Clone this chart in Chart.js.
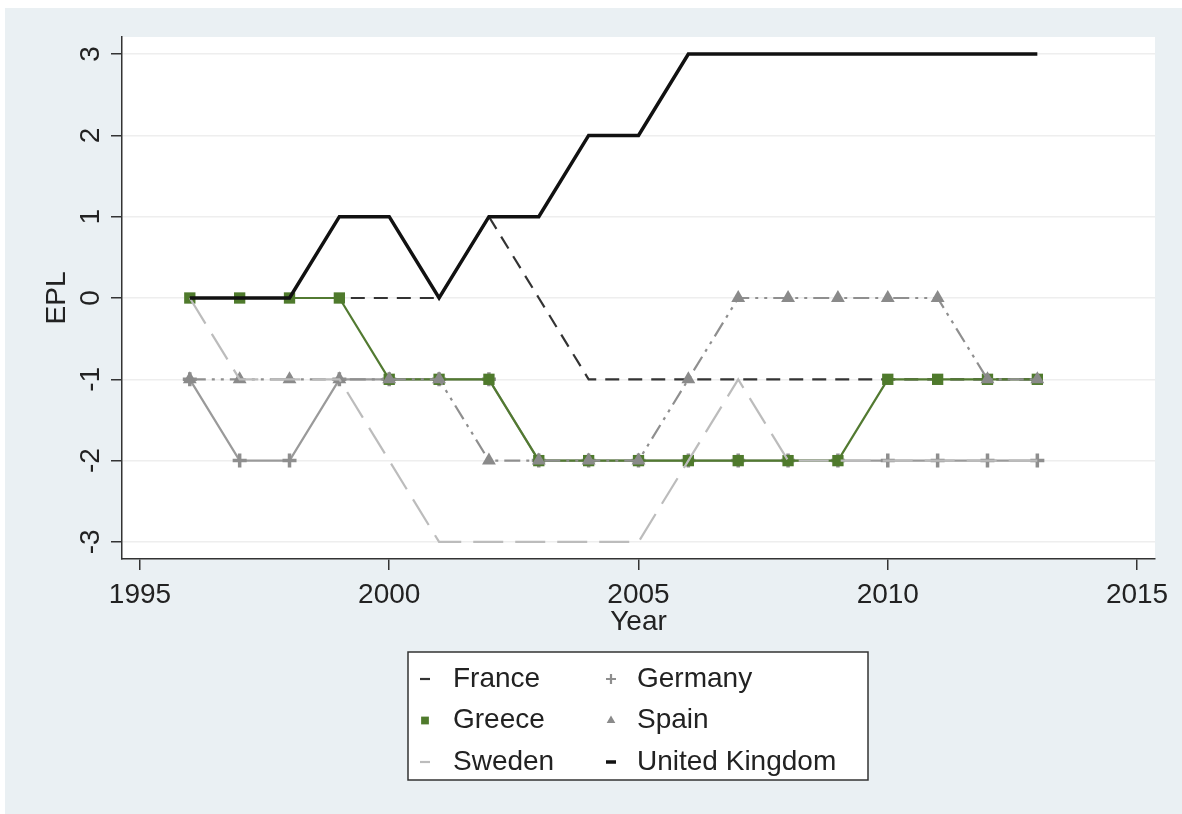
<!DOCTYPE html>
<html>
<head>
<meta charset="utf-8">
<script src="https://cdn.jsdelivr.net/npm/chart.js@4/dist/chart.umd.min.js"></script>
<style>
  html, body { margin: 0; padding: 0; background: #fff; }
</style>
</head>
<body>
<canvas id="epl" width="1182" height="814"></canvas>
<script>
// years on the x axis
const years = [1996, 1997, 1998, 1999, 2000, 2001, 2002, 2003, 2004, 2005,
               2006, 2007, 2008, 2009, 2010, 2011, 2012, 2013];

// EPL index per country
const france  = [0, 0, 0, 0, 0, 0, 1, 0, -1, -1, -1, -1, -1, -1, -1, -1, -1, -1];
const germany = [-1, -2, -2, -1, -1, -1, -1, -2, -2, -2, -2, -2, -2, -2, -2, -2, -2, -2];
const greece  = [0, 0, 0, 0, -1, -1, -1, -2, -2, -2, -2, -2, -2, -2, -1, -1, -1, -1];
const spain   = [-1, -1, -1, -1, -1, -1, -2, -2, -2, -2, -1, 0, 0, 0, 0, 0, -1, -1];
const sweden  = [0, -1, -1, -1, -2, -3, -3, -3, -3, -3, -2, -1, -2, -2, -2, -2, -2, -2];
const uk      = [0, 0, 0, 1, 1, 0, 1, 1, 2, 2, 3, 3, 3, 3, 3, 3, 3, 3];

const xTicks = [1995, 2000, 2005, 2010, 2015];
const yTicks = [-3, -2, -1, 0, 1, 2, 3];

const FONT = "'Liberation Sans', Arial, sans-serif";

function pts(vals) {
  return years.map((yr, i) => ({ x: yr, y: vals[i] }));
}

// light frame + white plot region
const background = {
  id: 'background',
  beforeDraw(chart) {
    const { ctx, chartArea: a } = chart;
    ctx.save();
    ctx.fillStyle = '#ffffff';
    ctx.fillRect(0, 0, chart.width, chart.height);
    ctx.fillStyle = '#eaf0f3';
    ctx.fillRect(5, 8, chart.width - 5, chart.height - 8);
    ctx.fillStyle = '#ffffff';
    ctx.fillRect(a.left, a.top, a.right - a.left, a.bottom - a.top);
    ctx.restore();
  }
};

// boxed two-column legend under the plot
const boxLegend = {
  id: 'boxLegend',
  afterDraw(chart) {
    const ctx = chart.ctx;
    const sets = chart.data.datasets;
    ctx.save();
    ctx.fillStyle = '#ffffff';
    ctx.fillRect(408, 652, 460, 128);
    ctx.strokeStyle = '#333';
    ctx.lineWidth = 1.5;
    ctx.strokeRect(408, 652, 460, 128);

    const symX = [425, 611];
    const txtX = [453, 637];
    sets.forEach((ds, i) => {
      const col = i % 2;
      const row = Math.floor(i / 2);
      const y = 679 + row * 41.5;
      const x = symX[col];
      ctx.setLineDash([]);
      if (ds.pointStyle && ds.pointRadius > 0) {
        ctx.fillStyle = ds.pointBackgroundColor;
        ctx.strokeStyle = ds.pointBorderColor;
        Chart.helpers.drawPoint(ctx, {
          pointStyle: ds.pointStyle, rotation: 0,
          radius: ds.legendRadius, borderWidth: ds.legendBorder
        }, x, y);
      } else {
        ctx.strokeStyle = ds.borderColor;
        ctx.lineWidth = ds.borderWidth;
        ctx.beginPath();
        ctx.moveTo(x - 5, y);
        ctx.lineTo(x + 5, y);
        ctx.stroke();
      }
      ctx.fillStyle = '#222';
      ctx.font = '28px ' + FONT;
      ctx.textBaseline = 'middle';
      ctx.textAlign = 'left';
      ctx.fillText(ds.label, txtX[col], y);
    });
    ctx.restore();
  }
};

new Chart(document.getElementById('epl'), {
  type: 'line',
  data: {
    datasets: [
      {
        label: 'France', data: pts(france), order: 6,
        borderColor: '#333333', borderWidth: 2.2, borderDash: [14, 9],
        pointRadius: 0
      },
      {
        label: 'Germany', data: pts(germany), order: 5,
        borderColor: '#9a9a9a', borderWidth: 2.2,
        pointStyle: 'cross', pointRadius: 7, pointBorderWidth: 3.5,
        pointBackgroundColor: '#8e8e8e', pointBorderColor: '#8e8e8e',
        legendRadius: 5, legendBorder: 1.5
      },
      {
        label: 'Greece', data: pts(greece), order: 4,
        borderColor: '#527a31', borderWidth: 2.2,
        pointStyle: 'rect', pointRadius: 8, pointBorderWidth: 0,
        pointBackgroundColor: '#4f7a2c', pointBorderColor: '#4f7a2c',
        legendRadius: 5.5, legendBorder: 0
      },
      {
        label: 'Spain', data: pts(spain), order: 3,
        borderColor: '#8f8f8f', borderWidth: 2.2, borderDash: [16, 6, 3, 6, 3, 6],
        pointStyle: 'triangle', pointRadius: 8, pointBorderWidth: 0,
        pointBackgroundColor: '#8a8a8a', pointBorderColor: '#8a8a8a',
        legendRadius: 5, legendBorder: 0
      },
      {
        label: 'Sweden', data: pts(sweden), order: 2,
        borderColor: '#bcbcbc', borderWidth: 2.2, borderDash: [30, 12],
        pointRadius: 0
      },
      {
        label: 'United Kingdom', data: pts(uk), order: 1,
        borderColor: '#111111', borderWidth: 3.5,
        pointRadius: 0
      }
    ]
  },
  options: {
    responsive: false,
    animation: false,
    layout: { padding: { left: 0, top: 37, right: 27, bottom: 175 } },
    plugins: { legend: { display: false }, tooltip: { enabled: false } },
    elements: { line: { tension: 0, fill: false } },
    scales: {
      x: {
        type: 'linear', min: 1994.64, max: 2015.36,
        afterBuildTicks: s => { s.ticks = xTicks.map(v => ({ value: v })); },
        afterFit: s => { s.height = 80; },
        grid: { drawOnChartArea: false, drawTicks: true, tickLength: 11, tickColor: '#333', lineWidth: 1.5 },
        border: { display: true, color: '#333', width: 1.5 },
        ticks: { padding: 8, color: '#222', font: { size: 28, family: FONT }, callback: v => String(v), maxRotation: 0 },
        title: { display: true, text: 'Year', color: '#222', font: { size: 28, family: FONT }, padding: 0 }
      },
      y: {
        type: 'linear', min: -3.21, max: 3.21,
        afterBuildTicks: s => { s.ticks = yTicks.map(v => ({ value: v })); },
        afterFit: s => { s.width = 122; },
        grid: { color: '#eeeeee', lineWidth: 1.5, drawTicks: true, tickLength: 11, tickColor: '#333' },
        border: { display: true, color: '#333', width: 1.5 },
        ticks: { padding: 7, color: '#222', font: { size: 28, family: FONT }, callback: v => String(v),
                 minRotation: 90, maxRotation: 90, crossAlign: 'center' },
        title: { display: true, text: 'EPL', color: '#222', font: { size: 28, family: FONT }, padding: { top: 40, bottom: 0 } }
      }
    }
  },
  plugins: [background, boxLegend]
});
</script>
</body>
</html>
